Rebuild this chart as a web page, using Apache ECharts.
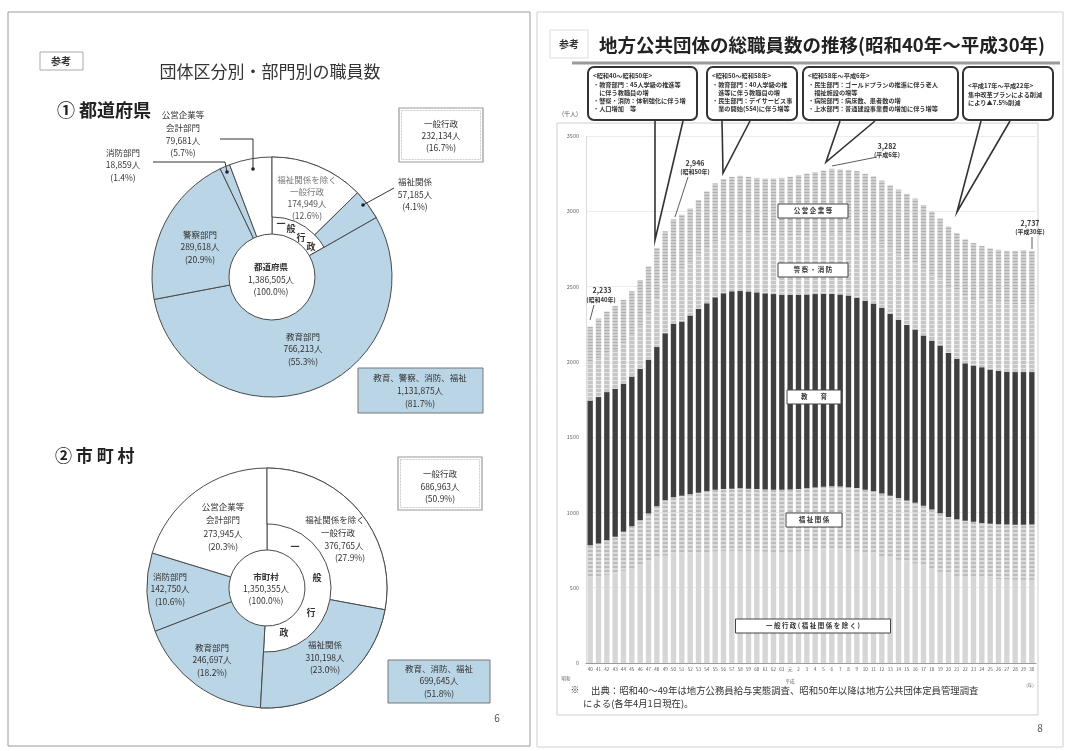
<!DOCTYPE html>
<html><head><meta charset="utf-8">
<script src="https://cdn.jsdelivr.net/npm/echarts@6/dist/echarts.min.js"></script>
<style>html,body{margin:0;padding:0;background:#fff}#c{width:1067px;height:751px}</style>
</head><body><div id="c"></div>
<script>
const FONT='"Noto Sans CJK JP","Noto Sans",sans-serif';

// ---- left page: 団体区分別・部門別の職員数 ----
const prefTotal=1386505;
const prefSectors=['一般行政','教育部門','警察部門','消防部門','公営企業等会計部門'];
const prefValues=[232134,766213,289618,18859,79681];
const prefGeneralNames=['福祉関係を除く一般行政','福祉関係'];
const prefGeneralValues=[174949,57185];

const muniTotal=1350355;
const muniSectors=['一般行政','教育部門','消防部門','公営企業等会計部門'];
const muniValues=[686963,246697,142750,273945];
const muniGeneralNames=['福祉関係を除く一般行政','福祉関係'];
const muniGeneralValues=[376765,310198];

// ---- right page: 総職員数の推移 (千人) 昭和40年～平成30年 ----
const years=['40','41','42','43','44','45','46','47','48','49','50','51','52','53','54','55','56','57','58','59','60','61','62','63','元','2','3','4','5','6','7','8','9','10','11','12','13','14','15','16','17','18','19','20','21','22','23','24','25','26','27','28','29','30'];
const general=[570,575,585,595,612,630,650,672,695,712,722,725,728,732,736,740,742,743,744,742,740,738,737,737,738,740,744,747,750,752,750,746,740,730,722,710,698,685,672,660,645,625,605,588,578,572,568,563,560,557,555,553,552,552];
const welfare=[212,219,231,243,259,278,298,321,346,369,379,385,392,398,404,410,413,415,416,416,415,414,413,413,414,415,416,418,420,422,422,422,422,420,418,415,412,410,408,405,400,395,390,382,377,373,370,367,365,365,365,365,366,367];
const education=[962,972,983,984,984,995,1006,1021,1057,1109,1152,1158,1188,1222,1249,1279,1301,1311,1310,1310,1307,1303,1300,1296,1292,1290,1287,1285,1282,1277,1276,1272,1263,1257,1247,1235,1210,1185,1165,1150,1130,1122,1114,1090,1065,1045,1038,1035,1025,1018,1015,1014,1014,1013];
const policeFire=[250,255,258,263,268,275,285,298,315,330,340,345,350,355,362,368,372,375,378,380,382,384,386,388,390,393,396,399,402,405,408,411,414,417,420,423,426,429,432,435,438,440,442,444,446,447,448,449,450,450,451,451,452,452];
const publicEnt=[239,266,277,285,289,291,305,321,344,347,353,364,361,368,381,388,386,385,388,381,378,379,382,388,395,402,407,411,416,426,422,423,428,425,425,421,426,435,440,434,429,416,401,395,389,377,365,355,353,354,352,354,358,353];
const yTicks=[0,500,1000,1500,2000,2500,3000,3500];

const BLUE='#bad5e5', LINE='#4a4a4a';
const blueSet=new Set(['教育部門','警察部門','消防部門','福祉関係']);

function mainPie(names,vals,center,r){
  return {type:'pie',center:center,radius:r,silent:true,label:{show:false},labelLine:{show:false},
    startAngle:90,clockwise:true,avoidLabelOverlap:false,
    data:names.map((n,i)=>({name:n,value:vals[i],itemStyle:{color:blueSet.has(n)?BLUE:'#ffffff',borderColor:LINE,borderWidth:1}}))};
}
function splitPie(names,vals,total,center,r){
  const sum=vals.reduce((a,b)=>a+b,0);
  const d=names.map((n,i)=>({name:n,value:vals[i],itemStyle:{color:blueSet.has(n)?BLUE:'#ffffff',borderColor:LINE,borderWidth:1}}));
  d.push({name:'rest',value:total-sum,itemStyle:{color:'rgba(0,0,0,0)',borderWidth:0}});
  return {type:'pie',center:center,radius:r,silent:true,label:{show:false},labelLine:{show:false},startAngle:90,clockwise:true,data:d};
}

const G=[];
function T(x,y,text,size,o={}){
  G.push({type:'text',x:x,y:y,silent:true,z:o.z||10,rotation:o.rot||0,style:{text:text,fill:o.color||'#333',
    font:(o.weight||'normal')+' '+size+'px '+FONT,textAlign:o.align||'center',align:o.align||'center',
    textVerticalAlign:'middle',verticalAlign:'middle',lineHeight:o.lh||size*1.3}});
}
function R(x,y,w,h,o={}){
  G.push({type:'rect',silent:true,z:o.z||5,shape:{x:x,y:y,width:w,height:h,r:o.r||0},
    style:{fill:o.fill||'none',stroke:o.stroke||'#555',lineWidth:o.lw||1,lineDash:o.dash||null}});
}
function P(pts,o={}){
  G.push({type:'polyline',silent:true,z:o.z||6,shape:{points:pts},style:{fill:'none',stroke:o.stroke||'#333',lineWidth:o.lw||1}});
}
function D(x,y){G.push({type:'circle',silent:true,z:12,shape:{cx:x,cy:y,r:1.8},style:{fill:'#222'}});}

// page frames
R(8,12,522,734,{stroke:'#9a9a9a'});
R(537,12,526,735,{stroke:'#d0d0d0'});
// left page header
R(40,52,43,18,{stroke:'#aaa'}); T(61,61,'参考',10,{weight:'bold'});
T(270,72,'団体区分別・部門別の職員数',17,{color:'#333'});
T(57,110,'① 都道府県',18,{align:'left',weight:'bold',color:'#222'});
T(55,456,'② 市 町 村',17,{align:'left',weight:'bold',color:'#222'});

// donut 1 labels
const S=8.5;
T(271,267,'都道府県',S,{weight:'bold'}); T(271,280,'1,386,505人',S); T(271,292,'(100.0%)',S);
T(307,180,'福祉関係を除く',S,{color:'#777'}); T(307,192,'一般行政',S,{color:'#777'});
T(307,204,'174,949人',S,{color:'#555'}); T(307,216,'(12.6%)',S,{color:'#555'});
T(281,224,'一',9,{weight:'bold'}); T(291,229,'般',9,{weight:'bold'}); T(301,238,'行',9,{weight:'bold'}); T(311,247,'政',9,{weight:'bold'});
T(415,182,'福祉関係',S); T(415,195,'57,185人',S); T(415,207,'(4.1%)',S);
P([[363,205],[394,188]]); D(363,205);
T(183,115,'公営企業等',S); T(183,128,'会計部門',S); T(183,141,'79,681人',S); T(183,153,'(5.7%)',S);
P([[220,139],[253,139],[253,169]]); D(253,169);
T(123,153,'消防部門',S); T(123,165,'18,859人',S); T(123,178,'(1.4%)',S);
P([[153,162],[225,162],[227,172]]); D(227,172);
T(200,235,'警察部門',S); T(200,247,'289,618人',S); T(200,260,'(20.9%)',S);
T(303,337,'教育部門',S); T(303,349,'766,213人',S); T(303,362,'(55.3%)',S);
R(399,108,84,54,{stroke:'#999',lw:1.2}); R(401.5,110.5,79,49,{stroke:'#ccc',lw:1,dash:[2,1]});
T(441,124,'一般行政',S); T(441,136,'232,134人',S); T(441,148,'(16.7%)',S);
R(358,368,125,45,{fill:BLUE,stroke:'#777'});
T(420,378,'教育、警察、消防、福祉',S); T(420,391,'1,131,875人',S); T(420,404,'(81.7%)',S);

// donut 2 labels
T(266,577,'市町村',S,{weight:'bold'}); T(266,589,'1,350,355人',S); T(266,601,'(100.0%)',S);
T(223,507,'公営企業等',S); T(223,520,'会計部門',S); T(223,534,'273,945人',S); T(223,547,'(20.3%)',S);
T(170,577,'消防部門',S); T(170,589,'142,750人',S); T(170,602,'(10.6%)',S);
T(212,648,'教育部門',S); T(212,660,'246,697人',S); T(212,673,'(18.2%)',S);
T(335,520,'福祉関係を除く',S); T(338,533,'一般行政',S); T(344,546,'376,765人',S); T(350,558,'(27.9%)',S);
T(325,645,'福祉関係',S); T(325,658,'310,198人',S); T(325,670,'(23.0%)',S);
T(295,547,'一',9,{weight:'bold'}); T(317,578,'般',9,{weight:'bold'}); T(311,613,'行',9,{weight:'bold'}); T(284,633,'政',9,{weight:'bold'});
R(398,457,84,53,{stroke:'#999',lw:1.2}); R(400.5,459.5,79,48,{stroke:'#ccc',lw:1,dash:[2,1]});
T(440,474,'一般行政',S); T(440,487,'686,963人',S); T(440,499,'(50.9%)',S);
R(388,660,102,43,{fill:BLUE,stroke:'#777'});
T(439,669,'教育、消防、福祉',S); T(439,681,'699,645人',S); T(439,694,'(51.8%)',S);
T(497,718,'6',10,{color:'#555'});

// right page header
R(550,30,38,28,{stroke:'#ddd'}); T(569,44,'参考',10,{weight:'bold'});
T(822,45,'地方公共団体の総職員数の推移(昭和40年～平成30年)',18.5,{weight:'bold',color:'#222'});
G.push({type:'line',silent:true,shape:{x1:572,y1:63,x2:1060,y2:63},style:{stroke:'#9a9a9a',lineWidth:3}});
// chart frame
R(557,123,481,592,{stroke:'#cfcfcf'});
T(562,114,'(千人)',6,{align:'left',color:'#555'});

// callout boxes
function callout(x,y,w,h,lines,p1,tip,p2,startY){
  R(x,y,w,h,{r:6,lw:2,stroke:'#333',fill:'#fff',z:7});
  P([p1,tip,p2],{lw:1.6,z:8});
  lines.forEach((l,i)=>T(x+5,startY+i*8.2,l,6.2,{align:'left',weight:'bold',color:'#333',z:9}));
}
callout(588,67,109,53,['<昭和40～昭和50年>','・教育部門：45人学級の推進等','　に伴う教職員の増','・警察・消防：体制強化に伴う増','・人口増加　等'],[655,121],[655,240],[683,121],76);
callout(707,67,90,53,['<昭和50～昭和58年>','・教育部門：40人学級の推','　進等に伴う教職員の増','・民生部門：デイサービス事','　業の開始(S54)に伴う増等'],[722,121],[723,173],[750,121],76);
callout(803,67,155,53,['<昭和58年～平成6年>','・民生部門：ゴールドプランの推進に伴う老人','　福祉施設の増等','・病院部門：病床数、患者数の増','・上水部門：普通建設事業費の増加に伴う増等'],[840,121],[826,162],[875,121],76);
callout(963,67,90,53,['<平成17年～平成22年>','集中改革プランによる削減','により▲7.5%削減'],[981,121],[957,212],[1010,121],86);

// value labels
T(602,290,'2,233',7,{weight:'bold'}); T(601,300,'(昭和40年)',6,{weight:'bold'});
P([[594,305],[590,320]],{lw:0.8});
T(695,163,'2,946',7,{weight:'bold'}); T(695,172,'(昭和50年)',6,{weight:'bold'});
P([[688,177],[675,217]],{lw:0.8});
T(887,146,'3,282',7,{weight:'bold'}); T(887,155,'(平成6年)',6,{weight:'bold'});
P([[832,166],[877,157]],{lw:0.8});
T(1030,223,'2,737',7,{weight:'bold'}); T(1030,232,'(平成30年)',6,{weight:'bold'});
P([[1032,237],[1032,249]],{lw:0.8});

// segment label boxes
function segBox(cx,cy,w,text){R(cx-w/2,cy-7,w,14,{fill:'#fff',stroke:'#444',lw:1,z:7});T(cx,cy,text,6.5,{z:9,weight:'bold'});}
segBox(813,211,70,'公 営 企 業 等');
segBox(813,270,70,'警 察 ・ 消 防');
segBox(814,397,54,'教　　育');
segBox(814,520,56,'福 祉 関 係');
segBox(813,626,155,'一 般 行 政 ( 福 祉 関 係 を 除 く )');

T(566,678,'昭和',4.5,{color:'#666'}); T(790,681,'平成',4.5,{color:'#666'}); T(1030,685,'(年)',4.5,{color:'#666'});
T(575,690,'※',9,{color:'#333'});
T(591,690,'出典：昭和40～49年は地方公務員給与実態調査、昭和50年以降は地方公共団体定員管理調査',9.4,{align:'left',color:'#333'});
T(583,703,'による(各年4月1日現在)。',9.4,{align:'left',color:'#333'});
T(1040,728,'8',10,{color:'#555'});

const barBase={type:'bar',stack:'t',barWidth:5.4,silent:true};
const chart=echarts.init(document.getElementById('c'),null,{renderer:'canvas'});
chart.setOption({
  animation:false,
  backgroundColor:'#ffffff',
  textStyle:{fontFamily:FONT},
  grid:{left:586,right:31,top:136,bottom:88,containLabel:false},
  xAxis:{type:'category',data:years,axisTick:{show:false},axisLine:{lineStyle:{color:'#999'}},
    axisLabel:{interval:0,fontSize:4.5,color:'#555',margin:4}},
  yAxis:{type:'value',min:0,max:3500,interval:500,
    axisLine:{show:true,lineStyle:{color:'#ddd'}},axisTick:{show:false},
    axisLabel:{fontSize:5.5,color:'#666',margin:7,formatter:v=>yTicks.includes(v)?String(v):''},
    splitLine:{lineStyle:{color:'#ececec',width:1}}},
  series:[
    Object.assign({},barBase,{name:'一般行政(福祉関係を除く)',data:general,itemStyle:{color:'#d6d6d6'}}),
    Object.assign({},barBase,{name:'福祉関係',data:welfare,itemStyle:{color:'#bcbcbc',decal:{symbol:'rect',symbolSize:1,dashArrayX:[1,0],dashArrayY:[2,2],color:'rgba(255,255,255,0.45)'}}}),
    Object.assign({},barBase,{name:'教育',data:education,itemStyle:{color:'#3f3f3f'}}),
    Object.assign({},barBase,{name:'警察・消防',data:policeFire,itemStyle:{color:'#c6c6c6',decal:{symbol:'rect',symbolSize:1,dashArrayX:[1,0],dashArrayY:[1,3],color:'rgba(255,255,255,0.5)'}}}),
    Object.assign({},barBase,{name:'公営企業等',data:publicEnt,itemStyle:{color:'#d0d0d0',decal:{symbol:'rect',symbolSize:1,dashArrayX:[1,0],dashArrayY:[1,2],color:'rgba(120,120,120,0.35)'}}}),
    mainPie(prefSectors,prefValues,[272,277],[43,120]),
    splitPie(prefGeneralNames,prefGeneralValues,prefTotal,[272,277],[60,120]),
    mainPie(muniSectors,muniValues,[267,588],[38,120]),
    splitPie(muniGeneralNames,muniGeneralValues,muniTotal,[267,588],[64,120])
  ],
  graphic:{elements:G}
});
</script></body></html>
